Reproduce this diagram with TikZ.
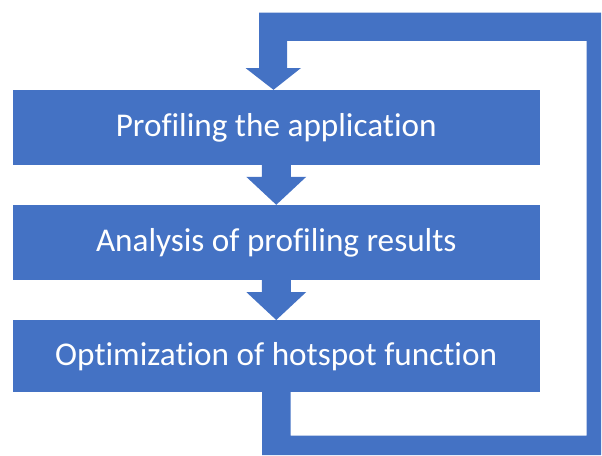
\documentclass[tikz,border=0pt]{standalone}
\usepackage{fontspec}
\setmainfont{Carlito}[Ligatures=NoCommon]
\definecolor{stepblue}{HTML}{4472C4}
\tikzset{
  stepbox/.style={fill=stepblue, draw=none, text=white, minimum width=526.5pt,
    inner sep=0pt, font=\fontsize{33.2}{38}\selectfont},
  band/.style={fill=stepblue, draw=none}
}
% block arrow from the bottom of one step to the top of the next
\newcommand\blockarrow[2]{%
  \fill[band] ([xshift=-14.5pt,yshift=1pt]#1.south) -- ([xshift=-14.5pt,yshift=28pt]#2.north)
    -- ([xshift=-30pt,yshift=28pt]#2.north) -- (#2.north)
    -- ([xshift=30pt,yshift=28pt]#2.north) -- ([xshift=14.5pt,yshift=28pt]#2.north)
    -- ([xshift=14.5pt,yshift=1pt]#1.south) -- cycle;}
\begin{document}
\begin{tikzpicture}[x=1pt,y=-1pt]
  \useasboundingbox (0,0) rectangle (602,455);
  % process steps
  \node[stepbox, minimum height=75pt] (p1) at (276.25,127.5) {Profiling the application};
  \node[stepbox, minimum height=75pt] (p2) at (276.25,242.5) {Analysis of profiling results};
  \node[stepbox, minimum height=72pt] (p3) at (276.25,356.2) {Optimization of hotspot function};
  % arrows between steps
  \blockarrow{p1}{p2}
  \blockarrow{p2}{p3}
  % feedback loop from the last step back to the first
  \fill[band] ([xshift=-14.25pt,yshift=1pt]p3.south) -- (262,455) -- (601,455) -- (601,12.5)
    -- (259,12.5) -- (259,68) -- (245.5,68) -- ([xshift=-2.75pt]p1.north) -- (301,68) -- (287,68)
    -- (287,40.8) -- (586.7,40.8) -- (586.7,435.7) -- (290.7,435.7)
    -- ([xshift=14.45pt,yshift=1pt]p3.south) -- cycle;
\end{tikzpicture}
\end{document}
